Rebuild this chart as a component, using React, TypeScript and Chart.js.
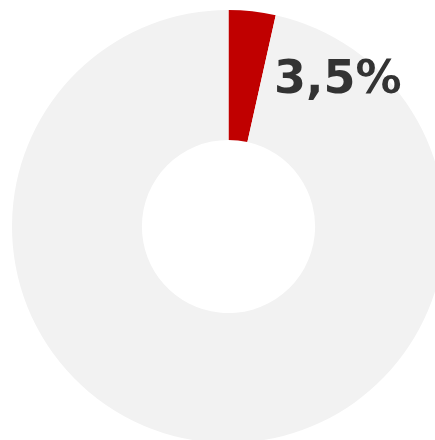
import React, { useEffect, useRef } from "react";
import { Chart, registerables } from "chart.js";

Chart.register(...registerables);

const categories = ["Anteil", "Rest"];
const values = [3.5, 96.5];
const colors = ["#C00000", "#F2F2F2"];
const labelText = "3,5%";

const labelPlugin = {
  id: "shareLabel",
  afterDatasetsDraw(chart: any) {
    const meta = chart.getDatasetMeta(0);
    const arc = meta.data[0];
    if (!arc) return;
    const { x, y, outerRadius } = arc.getProps(["x", "y", "outerRadius"], true);
    const ctx = chart.ctx;
    ctx.save();
    ctx.font = "bold 46px 'DejaVu Sans'";
    ctx.fillStyle = "#333333";
    ctx.textAlign = "left";
    ctx.textBaseline = "alphabetic";
    ctx.fillText(labelText, x + outerRadius * 0.21, y - outerRadius * 0.616);
    ctx.restore();
  },
};

export default function App() {
  const ref = useRef<HTMLCanvasElement | null>(null);
  useEffect(() => {
    if (!ref.current) return;
    const chart = new Chart(ref.current, {
      type: "doughnut",
      data: {
        labels: categories,
        datasets: [
          {
            data: values,
            backgroundColor: colors,
            borderWidth: 0,
          },
        ],
      },
      options: {
        animation: false,
        responsive: false,
        maintainAspectRatio: false,
        cutout: "40%",
        layout: { padding: 0 },
        plugins: {
          legend: { display: false },
          tooltip: { enabled: false },
        },
      },
      plugins: [labelPlugin],
    });
    return () => chart.destroy();
  }, []);
  return (
    <div
      style={{
        position: "fixed",
        left: 0,
        top: 0,
        width: 435,
        height: 440,
        overflow: "hidden",
        background: "#fff",
      }}
    >
      <canvas
        ref={ref}
        width={433}
        height={433}
        style={{ position: "absolute", left: 12, top: 10, width: 433, height: 433 }}
      />
    </div>
  );
}
